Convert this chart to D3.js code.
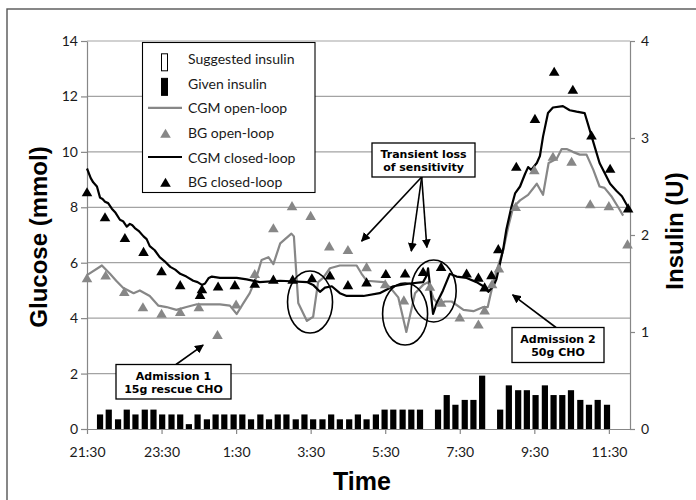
<!DOCTYPE html>
<html>
<head>
<meta charset="utf-8">
<script src="https://cdn.jsdelivr.net/npm/d3@7"></script>
<style>
  body { margin: 0; background: #fff; }
  text { font-family: Lato, "Open Sans", sans-serif; fill: #1a1a1a; }
</style>
</head>
<body>
<svg id="chart" width="696" height="500"></svg>
<script>
// ---- data (glucose in mmol, insulin in U) ----
var timeTicks = ["21:30", "23:30", "1:30", "3:30", "5:30", "7:30", "9:30", "11:30"];
var glucoseTicks = [0, 2, 4, 6, 8, 10, 12, 14];
var insulinTicks = [0, 1, 2, 3, 4];

var barTimes = ["21:51","22:05","22:20","22:34","22:48","23:03","23:17","23:31","23:46","0:00",
  "0:14","0:28","0:43","0:57","1:11","1:26","1:40","1:54","2:09","2:23",
  "2:37","2:51","3:06","3:20","3:34","3:49","4:03","4:17","4:32","4:46",
  "5:00","5:15","5:29","5:43","5:58","6:12","6:26","6:40","6:55","7:09",
  "7:23","7:38","7:52","8:06","8:21","8:35","8:49","9:04","9:18","9:32",
  "9:47","10:01","10:15","10:29","10:44","10:58","11:12","11:27"];
var givenInsulin = [0.15,0.2,0.1,0.2,0.15,0.2,0.2,0.15,0.15,0.15,
  0.05,0.15,0.1,0.15,0.15,0.15,0.15,0.1,0.15,0.1,
  0.15,0.15,0.1,0.15,0.1,0.1,0.15,0.1,0.1,0.15,
  0.1,0.15,0.2,0.2,0.2,0.2,0.2,0,0.2,0.35,
  0.25,0.3,0.3,0.55,0,0.2,0.45,0.4,0.4,0.35,
  0.45,0.35,0.35,0.4,0.3,0.25,0.3,0.25];

var cgmOpen = [["21:30",5.55],["21:54",5.9],["22:07",5.6],["22:17",5.35],["22:28",5.1],["22:45",4.9],
  ["22:55",5.0],["23:11",4.8],["23:25",4.45],["23:38",4.4],["23:54",4.3],["0:10",4.4],["0:27",4.5],
  ["1:04",4.5],["1:20",4.45],["1:31",4.15],["1:42",4.55],["1:52",4.9],["2:03",5.5],["2:11",6.1],
  ["2:22",6.2],["2:30",5.95],["2:41",6.7],["2:59",7.05],["3:03",6.95],["3:10",4.55],["3:24",3.9],
  ["3:34",4.05],["3:42",5.3],["3:50",5.45],["4:01",5.8],["4:17",5.9],["4:44",5.9],["4:52",5.6],
  ["5:00",5.35],["5:27",5.3],["5:38",5.1],["5:51",4.75],["6:04",3.5],["6:18",4.9],["6:31",5.2],
  ["6:39",5.3],["6:48",4.7],["6:56",4.5],["7:06",4.6],["7:17",4.6],["7:36",4.3],["7:52",4.25],
  ["8:08",4.4],["8:15",4.4],["8:20",4.9],["8:29",5.7],["8:40",6.45],["8:48",7.3],["8:56",8.0],
  ["9:07",8.25],["9:20",8.45],["9:34",8.85],["9:44",8.45],["9:53",9.6],["10:06",9.75],["10:14",10.1],
  ["10:22",10.1],["10:32",10.0],["10:43",9.9],["10:54",9.9],["11:05",9.35],["11:15",8.75],
  ["11:23",8.7],["11:34",8.4],["11:45",8.0],["11:53",7.7]];

var cgmClosed = [["21:30",9.4],["21:36",9.05],["21:40",8.9],["21:46",8.75],["21:51",8.35],["21:55",8.3],
  ["21:59",8.2],["22:04",8.15],["22:10",7.95],["22:16",7.8],["22:23",7.55],["22:28",7.5],
  ["22:34",7.3],["22:39",7.4],["22:43",7.35],["22:47",7.25],["22:53",7.15],["23:01",6.95],["23:06",6.85],
  ["23:11",6.6],["23:19",6.45],["23:27",6.2],["23:35",6.05],["23:44",5.85],["23:52",5.75],
  ["0:00",5.6],["0:10",5.5],["0:21",5.35],["0:28",5.3],["0:35",5.2],["0:40",5.25],["0:46",5.45],["0:51",5.5],["1:04",5.45],["1:31",5.45],
  ["1:47",5.4],["2:08",5.3],["2:41",5.35],["3:24",5.3],["3:34",5.2],["3:45",4.95],["3:53",5.1],
  ["4:04",5.15],["4:17",4.9],["4:28",4.8],["4:55",4.8],["5:21",4.9],["5:43",5.15],["6:10",5.25],
  ["6:31",5.3],["6:37",5.55],["6:39",5.8],["6:47",4.15],["6:53",4.55],["7:03",5.0],["7:14",5.6],
  ["7:25",5.5],["7:41",5.45],["7:57",5.3],["8:08",5.15],["8:16",4.95],["8:24",5.15],["8:29",5.4],
  ["8:35",6.0],["8:40",6.5],["8:45",7.2],["8:53",8.0],["8:59",8.5],["9:07",8.75],["9:15",9.2],
  ["9:20",9.45],["9:25",9.35],["9:34",9.6],["9:39",9.85],["9:44",10.55],["9:52",11.4],["10:00",11.6],
  ["10:16",11.65],["10:27",11.5],["10:38",11.45],["10:51",11.4],["10:59",10.8],["11:07",10.2],
  ["11:15",9.6],["11:23",9.25],["11:32",8.85],["11:42",8.6],["11:51",8.4],["12:01",8.0]];

var bgOpen = [["21:30",5.45],["22:00",5.55],["22:30",4.95],["23:00",4.4],["23:30",4.17],["0:00",4.23],
  ["0:30",4.4],["1:00",3.4],["1:30",4.5],["2:00",5.6],["2:30",7.25],["3:00",8.05],["3:30",7.7],
  ["4:00",6.6],["4:30",6.47],["5:00",5.85],["5:30",5.23],["6:00",4.65],["6:42",5.14],["7:00",4.57],
  ["7:30",4.03],["8:00",3.78],["8:10",4.29],["8:22",5.23],["8:33",5.8],["9:00",8.02],["9:30",9.35],
  ["10:00",9.83],["10:30",9.65],["11:00",8.12],["11:30",8.05],["12:00",6.67]];

var bgClosed = [["21:30",8.55],["21:59",7.65],["22:31",6.9],["23:01",6.4],["23:30",5.7],["0:00",5.2],
  ["0:32",4.85],["0:35",5.05],["1:01",5.15],["1:28",5.2],["2:00",5.25],["2:30",5.4],["3:01",5.4],
  ["3:32",5.45],["4:01",5.55],["4:30",5.2],["5:00",5.3],["5:31",5.6],["6:02",5.62],["6:31",5.68],
  ["7:00",5.86],["7:41",5.62],["8:00",5.47],["8:10",5.12],["8:21",5.56],["8:32",6.5],["9:01",9.47],
  ["9:31",11.2],["10:02",12.9],["10:32",12.25],["11:02",10.6],["11:32",9.4],["12:01",7.97]];

var legendItems = ["Suggested insulin", "Given insulin", "CGM open-loop", "BG open-loop", "CGM closed-loop", "BG closed-loop"];

// ---- layout ----
var plotLeft = 87, plotRight = 630, plotTop = 41, plotBottom = 429;
var grey = "#878787", gridGrey = "#a3a3a3";
var svg = d3.select("#chart");

/*
minutes after 21:30, wrapping past midnight
*/
function toMin(s) {
  var p = s.split(":").map(Number);
  var t = p[0] * 60 + p[1] - (21 * 60 + 30);
  return t < 0 ? t + 1440 : t;
}

var x = d3.scaleLinear().domain([0, 874]).range([plotLeft, plotRight]);
var yG = d3.scaleLinear().domain([0, 14]).range([plotBottom, plotTop]);
var yI = d3.scaleLinear().domain([0, 4]).range([plotBottom, plotTop]);

// frame around the whole figure
svg.append("rect")
  .attr("x", 7).attr("y", 9).attr("width", 700).attr("height", 500)
  .style("fill", "none").style("stroke", "#555").style("stroke-width", 1.4);

// gridlines
svg.append("g").selectAll("line")
  .data(glucoseTicks.filter(function(d){ return d > 0; }))
  .enter().append("line")
  .attr("x1", plotLeft).attr("x2", plotRight)
  .attr("y1", function(d){ return yG(d); })
  .attr("y2", function(d){ return yG(d); })
  .style("stroke", gridGrey).style("stroke-width", 1.2);

// axes
function styleAxis(g) {
  g.select(".domain").style("stroke", grey).style("stroke-width", 1.2);
  g.selectAll(".tick line").style("stroke", grey).style("stroke-width", 1.2);
  g.selectAll(".tick text").style("font-family", "Lato, sans-serif").style("font-size", "14px").style("fill", "#1a1a1a");
}

svg.append("g")
  .attr("transform", "translate(" + plotLeft + ",0)")
  .call(d3.axisLeft(yG).tickValues(glucoseTicks).tickFormat(d3.format("d"))
    .tickSize(6).tickSizeOuter(0).tickPadding(3))
  .call(styleAxis);

svg.append("g")
  .attr("transform", "translate(" + plotRight + ",0)")
  .call(d3.axisRight(yI).tickValues(insulinTicks).tickFormat(d3.format("d"))
    .tickSize(5).tickSizeOuter(0).tickPadding(6))
  .call(styleAxis);

svg.append("g")
  .attr("transform", "translate(0," + plotBottom + ")")
  .call(d3.axisBottom(x).tickValues(timeTicks.map(toMin))
    .tickFormat(function(d, i){ return timeTicks[i]; })
    .tickSize(5).tickSizeOuter(0).tickPadding(13))
  .call(styleAxis);

// insulin bars
var bars = barTimes.map(function(t, i){ return {t: toMin(t), u: givenInsulin[i]}; })
  .filter(function(d){ return d.u > 0; });
svg.append("g").selectAll("rect")
  .data(bars)
  .enter().append("rect")
  .attr("x", function(d){ return x(d.t) - 3.1; })
  .attr("width", 6.2)
  .attr("y", function(d){ return yI(d.u); })
  .attr("height", function(d){ return yI(0) - yI(d.u); })
  .style("fill", "#000");

// CGM lines
var line = d3.line()
  .x(function(d){ return x(toMin(d[0])); })
  .y(function(d){ return yG(d[1]); });

svg.append("path").datum(cgmOpen).attr("d", line)
  .style("fill", "none").style("stroke", grey).style("stroke-width", 2.2).style("stroke-linejoin", "round");
svg.append("path").datum(cgmClosed).attr("d", line)
  .style("fill", "none").style("stroke", "#000").style("stroke-width", 2.2).style("stroke-linejoin", "round");

// BG triangles
var tri = "M0,-4.8L5.3,4.3L-5.3,4.3Z";
function triangles(data, colour) {
  svg.append("g").selectAll("path")
    .data(data)
    .enter().append("path")
    .attr("d", tri)
    .attr("transform", function(d){ return "translate(" + x(toMin(d[0])) + "," + yG(d[1]) + ")"; })
    .style("fill", colour);
}
triangles(bgOpen, grey);
triangles(bgClosed, "#000");

// ellipses round the sensitivity drops
var rings = [["3:29", 4.58], ["6:02", 4.15], ["6:48", 4.98]];
svg.append("g").selectAll("ellipse")
  .data(rings)
  .enter().append("ellipse")
  .attr("cx", function(d){ return x(toMin(d[0])); })
  .attr("cy", function(d){ return yG(d[1]); })
  .attr("rx", 22.5).attr("ry", 31)
  .style("fill", "none").style("stroke", "#000").style("stroke-width", 1.6);

// arrows and call-out boxes
svg.append("defs").append("marker")
  .attr("id", "head").attr("viewBox", "0 0 10 10")
  .attr("refX", 9).attr("refY", 5)
  .attr("markerWidth", 9).attr("markerHeight", 9)
  .attr("markerUnits", "userSpaceOnUse")
  .attr("orient", "auto")
  .append("path").attr("d", "M0,0L10,5L0,10Z").style("fill", "#000");

var arrows = [
  {from: [421.7, 177], to: ["4:52", 6.78]},
  {from: [421.7, 177], to: ["6:12", 6.42]},
  {from: [421.7, 177], to: ["6:37", 6.55]},
  {from: [176, 364.5], to: ["0:37", 3.03]},
  {from: [556, 327.5], to: ["8:55", 4.84]}
];
svg.append("g").selectAll("line")
  .data(arrows)
  .enter().append("line")
  .attr("x1", function(d){ return d.from[0]; })
  .attr("y1", function(d){ return d.from[1]; })
  .attr("x2", function(d){ return x(toMin(d.to[0])); })
  .attr("y2", function(d){ return yG(d.to[1]); })
  .attr("marker-end", "url(#head)")
  .style("stroke", "#000").style("stroke-width", 1.6);

var callouts = [
  {x: 372, y: 143, w: 103, h: 34, lines: ["Transient loss", "of sensitivity"]},
  {x: 116, y: 364.5, w: 115, h: 34.5, lines: ["Admission 1", "15g rescue CHO"]},
  {x: 512, y: 327.5, w: 92, h: 35, lines: ["Admission 2", "50g CHO"]}
];
var box = svg.append("g").selectAll("g")
  .data(callouts)
  .enter().append("g")
  .attr("transform", function(d){ return "translate(" + d.x + "," + d.y + ")"; });
box.append("rect")
  .attr("width", function(d){ return d.w; })
  .attr("height", function(d){ return d.h; })
  .style("fill", "#fff").style("stroke", "#000").style("stroke-width", 1.3);
box.each(function(d){
  var g = d3.select(this);
  d.lines.forEach(function(s, i){
    g.append("text")
      .text(s)
      .attr("x", d.w / 2)
      .attr("y", 15 + i * 13)
      .attr("text-anchor", "middle")
      .style("font-family", "'DejaVu Sans', Verdana, sans-serif")
      .style("font-weight", "bold")
      .style("font-size", "11px")
      .style("fill", "#000");
  });
});

// legend
svg.append("rect")
  .attr("x", 142.5).attr("y", 42.5).attr("width", 172.5).attr("height", 150)
  .style("fill", "#fff").style("stroke", "#000").style("stroke-width", 1.1);

var legend = svg.append("g").selectAll("g")
  .data(legendItems)
  .enter().append("g")
  .attr("transform", function(d, i){ return "translate(0," + (59.8 + i * 24.55) + ")"; });

legend.append("text")
  .text(function(d){ return d; })
  .attr("x", 188).attr("y", 4.5)
  .style("font-size", "14px");

legend.each(function(d, i){
  var g = d3.select(this);
  if (i < 2) {
    g.append("rect")
      .attr("x", 161.5).attr("y", -6).attr("width", 6).attr("height", 17)
      .style("fill", i == 0 ? "#fff" : "#000").style("stroke", "#000").style("stroke-width", 1);
  } else if (i == 2 || i == 4) {
    g.append("line")
      .attr("x1", 148).attr("x2", 182).attr("y1", -1).attr("y2", -1)
      .style("stroke", i == 2 ? grey : "#000").style("stroke-width", 2.2);
  } else {
    g.append("path").attr("d", tri)
      .attr("transform", "translate(165.5,0)")
      .style("fill", i == 3 ? grey : "#000");
  }
});

// axis titles
var titleFont = "'Liberation Sans', Arial, sans-serif";
svg.append("text")
  .text("Glucose (mmol)")
  .attr("transform", "translate(47,237) rotate(-90)")
  .attr("text-anchor", "middle")
  .style("font-family", titleFont).style("font-weight", "bold").style("font-size", "24px").style("fill", "#000");

svg.append("text")
  .text("Insulin (U)")
  .attr("transform", "translate(683,231) rotate(-90)")
  .attr("text-anchor", "middle")
  .style("font-family", titleFont).style("font-weight", "bold").style("font-size", "24px").style("fill", "#000");

svg.append("text")
  .text("Time")
  .attr("x", 362).attr("y", 490)
  .attr("text-anchor", "middle")
  .style("font-family", titleFont).style("font-weight", "bold").style("font-size", "25px").style("fill", "#000");
</script>
</body>
</html>
